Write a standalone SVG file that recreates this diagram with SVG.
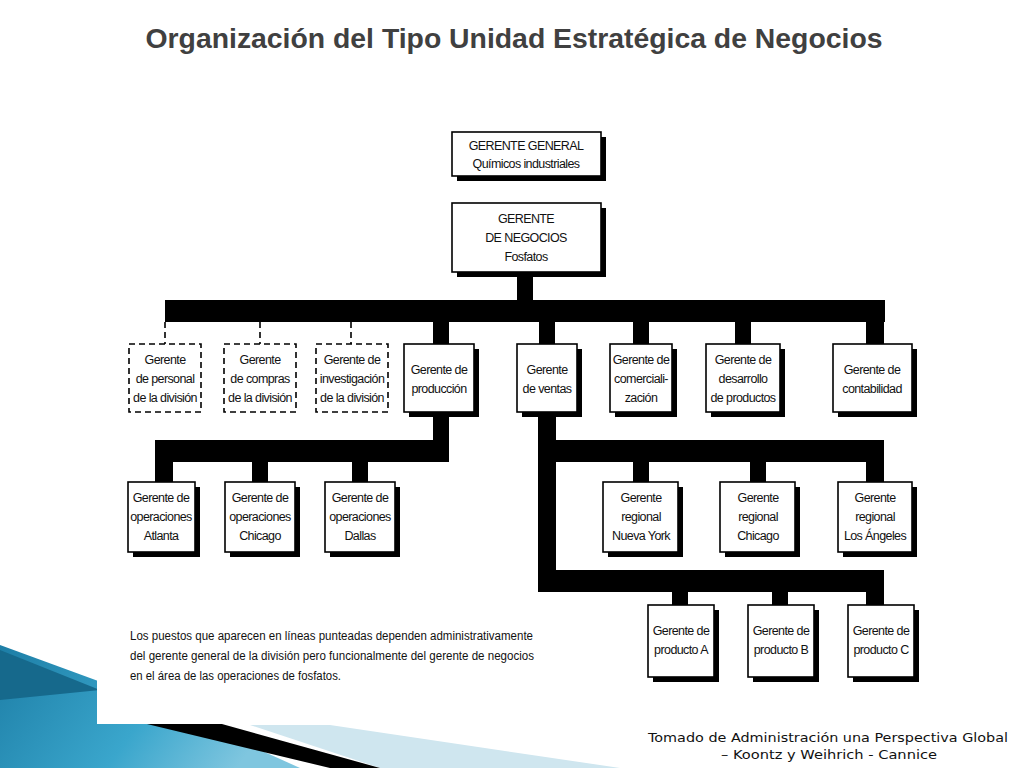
<svg xmlns="http://www.w3.org/2000/svg" width="1024" height="768" viewBox="0 0 1024 768">
<defs>
<linearGradient id="bl" x1="0" y1="0" x2="1" y2="0.3"><stop offset="0" stop-color="#1d7ea6"/><stop offset="0.6" stop-color="#3aa6cc"/><stop offset="1" stop-color="#7fc6df"/></linearGradient>
</defs>
<style>
.bx{fill:#fff;stroke:#000;stroke-width:1.6}
.sh{fill:#000}
.dx{fill:#fff;stroke:#000;stroke-width:1.6;stroke-dasharray:6,4}
.t{font-family:"Liberation Sans",Arial,sans-serif;font-size:12.5px;letter-spacing:-0.6px;text-anchor:middle;fill:#111}
.n{font-family:"Liberation Sans",Arial,sans-serif;font-size:12px;fill:#111}
.c{fill:#000}
</style>
<rect width="1024" height="768" fill="#fff"/>
<g id="decor">
<polygon points="0,645 150,700 300,768 0,768" fill="url(#bl)"/>
<polygon points="0,650 100,690 0,700" fill="#16698c"/>
<polygon points="250,725 330,725 620,768 380,768" fill="#cfe6ef"/>
<polygon points="100,690 380,768 330,768 97,712" fill="#000"/>
</g>
<rect x="97" y="88" width="840" height="636" fill="#fff"/>
<text x="514" y="48" font-family="Liberation Sans,Arial,sans-serif" font-size="27" font-weight="bold" fill="#404040" text-anchor="middle" textLength="737" lengthAdjust="spacingAndGlyphs">Organización del Tipo Unidad Estratégica de Negocios</text>
<g id="connectors">
<rect class="c" x="517" y="272" width="16" height="30"/>
<rect class="c" x="165" y="300" width="720" height="22"/>
<rect class="c" x="433" y="322" width="16" height="22"/>
<rect class="c" x="539" y="322" width="16" height="22"/>
<rect class="c" x="633" y="322" width="16" height="22"/>
<rect class="c" x="735" y="322" width="16" height="22"/>
<rect class="c" x="866" y="322" width="18" height="22"/>
<g stroke="#000" stroke-width="1.6" stroke-dasharray="6,4" fill="none">
<path d="M165,322V344M260,322V344M351,322V344"/>
</g>
<rect class="c" x="433" y="412" width="16" height="30"/>
<rect class="c" x="155" y="440" width="294" height="22"/>
<rect class="c" x="155" y="462" width="18" height="20"/>
<rect class="c" x="252" y="462" width="16" height="20"/>
<rect class="c" x="352" y="462" width="16" height="20"/>
<rect class="c" x="538" y="412" width="18" height="180"/>
<rect class="c" x="538" y="440" width="346" height="22"/>
<rect class="c" x="633" y="462" width="16" height="20"/>
<rect class="c" x="750" y="462" width="16" height="20"/>
<rect class="c" x="866" y="462" width="18" height="20"/>
<rect class="c" x="538" y="570" width="346" height="22"/>
<rect class="c" x="672" y="592" width="16" height="13"/>
<rect class="c" x="772" y="592" width="16" height="13"/>
<rect class="c" x="866" y="592" width="18" height="13"/>
</g>
<g id="gg"><rect class="sh" x="457" y="137" width="149" height="44"/><rect class="bx" x="452" y="132" width="149" height="44"/><text class="t" x="526" y="150">GERENTE GENERAL</text><text class="t" x="526" y="168">Químicos industriales</text></g>
<g id="gn"><rect class="sh" x="457" y="208" width="149" height="69"/><rect class="bx" x="452" y="203" width="149" height="69"/><text class="t" x="526" y="223">GERENTE</text><text class="t" x="526" y="242">DE NEGOCIOS</text><text class="t" x="526" y="261">Fosfatos</text></g>
<g id="personal"><rect class="dx" x="129" y="344" width="72" height="68"/><text class="t" x="165" y="364">Gerente</text><text class="t" x="165" y="383">de personal</text><text class="t" x="165" y="402">de la división</text></g>
<g id="compras"><rect class="dx" x="224" y="344" width="72" height="68"/><text class="t" x="260" y="364">Gerente</text><text class="t" x="260" y="383">de compras</text><text class="t" x="260" y="402">de la división</text></g>
<g id="investigacion"><rect class="dx" x="316" y="344" width="72" height="68"/><text class="t" x="352" y="364">Gerente de</text><text class="t" x="352" y="383">investigación</text><text class="t" x="352" y="402">de la división</text></g>
<g id="produccion"><rect class="sh" x="409" y="349" width="70" height="68"/><rect class="bx" x="404" y="344" width="70" height="68"/><text class="t" x="439" y="374">Gerente de</text><text class="t" x="439" y="393">producción</text></g>
<g id="ventas"><rect class="sh" x="522" y="349" width="60" height="68"/><rect class="bx" x="517" y="344" width="60" height="68"/><text class="t" x="547" y="374">Gerente</text><text class="t" x="547" y="393">de ventas</text></g>
<g id="comercializacion"><rect class="sh" x="615" y="349" width="62" height="68"/><rect class="bx" x="610" y="344" width="62" height="68"/><text class="t" x="641" y="364">Gerente de</text><text class="t" x="641" y="383">comerciali-</text><text class="t" x="641" y="402">zación</text></g>
<g id="desarrollo"><rect class="sh" x="711" y="349" width="74" height="68"/><rect class="bx" x="706" y="344" width="74" height="68"/><text class="t" x="743" y="364">Gerente de</text><text class="t" x="743" y="383">desarrollo</text><text class="t" x="743" y="402">de productos</text></g>
<g id="contabilidad"><rect class="sh" x="838" y="349" width="79" height="68"/><rect class="bx" x="833" y="344" width="79" height="68"/><text class="t" x="872" y="374">Gerente de</text><text class="t" x="872" y="393">contabilidad</text></g>
<g id="atlanta"><rect class="sh" x="133" y="487" width="67" height="70"/><rect class="bx" x="128" y="482" width="67" height="70"/><text class="t" x="161" y="502">Gerente de</text><text class="t" x="161" y="521">operaciones</text><text class="t" x="161" y="540">Atlanta</text></g>
<g id="chicago-op"><rect class="sh" x="230" y="487" width="70" height="70"/><rect class="bx" x="225" y="482" width="70" height="70"/><text class="t" x="260" y="502">Gerente de</text><text class="t" x="260" y="521">operaciones</text><text class="t" x="260" y="540">Chicago</text></g>
<g id="dallas"><rect class="sh" x="330" y="487" width="70" height="70"/><rect class="bx" x="325" y="482" width="70" height="70"/><text class="t" x="360" y="502">Gerente de</text><text class="t" x="360" y="521">operaciones</text><text class="t" x="360" y="540">Dallas</text></g>
<g id="nuevayork"><rect class="sh" x="608" y="487" width="75" height="70"/><rect class="bx" x="603" y="482" width="75" height="70"/><text class="t" x="641" y="502">Gerente</text><text class="t" x="641" y="521">regional</text><text class="t" x="641" y="540">Nueva York</text></g>
<g id="chicago-reg"><rect class="sh" x="725" y="487" width="75" height="70"/><rect class="bx" x="720" y="482" width="75" height="70"/><text class="t" x="758" y="502">Gerente</text><text class="t" x="758" y="521">regional</text><text class="t" x="758" y="540">Chicago</text></g>
<g id="losangeles"><rect class="sh" x="843" y="487" width="74" height="70"/><rect class="bx" x="838" y="482" width="74" height="70"/><text class="t" x="875" y="502">Gerente</text><text class="t" x="875" y="521">regional</text><text class="t" x="875" y="540">Los Ángeles</text></g>
<g id="prodA"><rect class="sh" x="653" y="610" width="66" height="72"/><rect class="bx" x="648" y="605" width="66" height="72"/><text class="t" x="681" y="635">Gerente de</text><text class="t" x="681" y="654">producto A</text></g>
<g id="prodB"><rect class="sh" x="753" y="610" width="66" height="72"/><rect class="bx" x="748" y="605" width="66" height="72"/><text class="t" x="781" y="635">Gerente de</text><text class="t" x="781" y="654">producto B</text></g>
<g id="prodC"><rect class="sh" x="853" y="610" width="66" height="72"/><rect class="bx" x="848" y="605" width="66" height="72"/><text class="t" x="881" y="635">Gerente de</text><text class="t" x="881" y="654">producto C</text></g>
<g id="note">
<text class="n" x="130" y="640" textLength="403" lengthAdjust="spacingAndGlyphs">Los puestos que aparecen en líneas punteadas dependen administrativamente</text>
<text class="n" x="130" y="660" textLength="404" lengthAdjust="spacingAndGlyphs">del gerente general de la división pero funcionalmente del gerente de negocios</text>
<text class="n" x="130" y="680" textLength="211" lengthAdjust="spacingAndGlyphs">en el área de las operaciones de fosfatos.</text>
</g>
<g id="footer" font-family="DejaVu Sans,sans-serif" font-size="13" fill="#111">
<text x="1008" y="742" text-anchor="end" textLength="360" lengthAdjust="spacingAndGlyphs">Tomado de Administración una Perspectiva Global</text>
<text x="829" y="759" text-anchor="middle" textLength="216" lengthAdjust="spacingAndGlyphs">– Koontz y Weihrich - Cannice</text>
</g>
</svg>
